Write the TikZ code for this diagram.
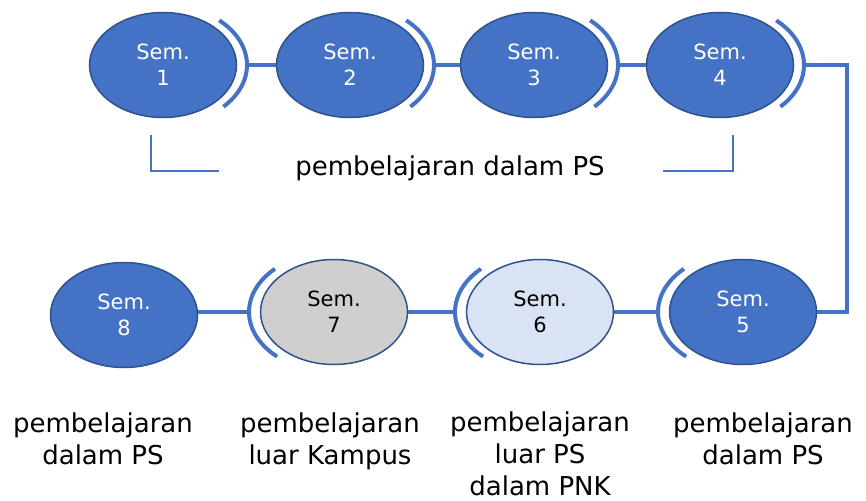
\documentclass[tikz,border=0pt]{standalone}
\usepackage{fontspec}
\setmainfont{DejaVu Sans}
\usetikzlibrary{shapes.geometric}
\definecolor{semblue}{HTML}{4472C4}
\definecolor{semedge}{HTML}{2F528F}
\definecolor{semgrey}{HTML}{D0CECE}
\definecolor{semlight}{HTML}{DAE3F3}
\tikzset{
  sem/.style={ellipse, draw=semedge, line width=1.5pt, minimum width=147pt, minimum height=105pt,
    inner sep=0pt, align=center, font=\fontsize{21}{26}\selectfont},
  semdark/.style={sem, fill=semblue, text=white},
  semgreybox/.style={sem, fill=semgrey, text=black},
  semlightbox/.style={sem, fill=semlight, text=black},
  link/.style={draw=semblue, line width=4pt},
  bracketarc/.style={draw=semblue, line width=4pt},
  thinline/.style={draw=semblue, line width=1.3pt},
  lbl/.style={align=center, font=\fontsize{26}{32}\selectfont, inner sep=0pt, anchor=base},
}
\begin{document}
\begin{tikzpicture}[x=1pt,y=-1pt]
\useasboundingbox (0,0) rectangle (866,500);
% top row
\node[semdark] (s1) at (163,65) {Sem.\\1};
\node[semdark] (s2) at (350,65) {Sem.\\2};
\node[semdark] (s3) at (534,65) {Sem.\\3};
\node[semdark] (s4) at (720,65) {Sem.\\4};
% bottom row
\node[semdark] (s5) at (743,312) {Sem.\\5};
\node[semlightbox] (s6) at (540,312) {Sem.\\6};
\node[semgreybox] (s7) at (334,312) {Sem.\\7};
\node[semdark] (s8) at (124,315) {Sem.\\8};
% arcs and their outer points
\foreach \i in {1,2,3,4}{
  \coordinate (a\i) at ([xshift=84pt]s\i.center);
  \draw[bracketarc] ([shift={(-44:84pt and 60pt)}]s\i.center) arc[start angle=-44, end angle=48, x radius=84pt, y radius=60pt];
}
\foreach \i in {5,6,7}{
  \coordinate (a\i) at ([xshift=-85pt]s\i.center);
  \draw[bracketarc] ([shift={(134:85pt and 60pt)}]s\i.center) arc[start angle=134, end angle=228, x radius=85pt, y radius=60pt];
}
% connectors
\draw[link] (a1) -- (s2.west);
\draw[link] (a2) -- (s3.west);
\draw[link] (a3) -- (s4.west);
\coordinate (r) at (847,65);
\draw[link] (a4) -- (r) |- (s5.east);
\draw[link] (a5) -- (s6.east);
\draw[link] (a6) -- (s7.east);
\draw[link] (a7) -- (a7 -| s8.east);
% bracket under top row
\coordinate (bl1) at (151,135);
\coordinate (bl2) at (151,171);
\coordinate (bl3) at (219,171);
\coordinate (br1) at (733,135);
\coordinate (br2) at (733,171);
\coordinate (br3) at (663,171);
\draw[thinline] (bl1) -- (bl2) -- (bl3);
\draw[thinline] (br1) -- (br2) -- (br3);
\node[lbl] (tlabel) at (450,175) {pembelajaran dalam PS};
% bottom labels (anchored at last baseline)
\node[lbl] (l8) at (103,464) {pembelajaran\\dalam PS};
\node[lbl] (l7) at (330,464) {pembelajaran\\luar Kampus};
\node[lbl] (l6) at (540,495) {pembelajaran\\luar PS\\dalam PNK};
\node[lbl] (l5) at (763,464) {pembelajaran\\dalam PS};
\end{tikzpicture}
\end{document}
